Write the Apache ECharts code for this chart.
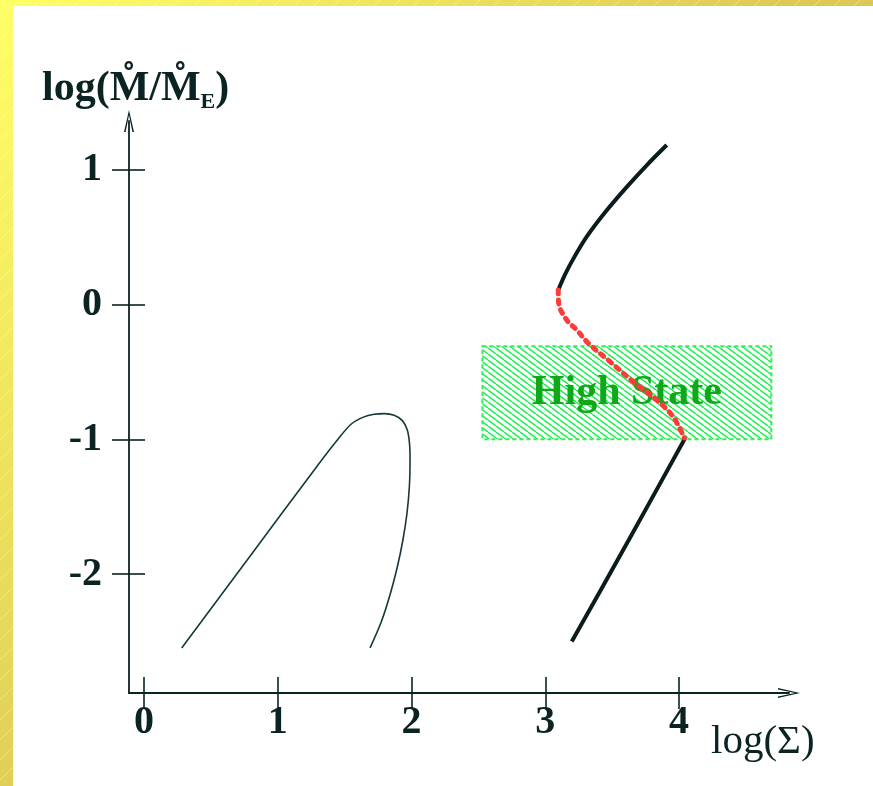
<!DOCTYPE html>
<html>
<head>
<meta charset="utf-8">
<script src="https://cdn.jsdelivr.net/npm/echarts@6/dist/echarts.min.js"></script>
<style>
  html, body { margin: 0; padding: 0; background: #ffffff; }
  #chart { width: 873px; height: 786px; }
</style>
</head>
<body>
<div id="chart"></div>
<script>
// Tick values on both axes
const xTicks = [0, 1, 2, 3, 4];
const yTicks = [-2, -1, 0, 1];

// Cold / low branch of the thermal equilibrium curve
const coldBranch = [
  [0.282, -2.546], [0.780, -1.883], [1.291, -1.203], [1.450, -1.000],
  [1.550, -0.887], [1.640, -0.836], [1.720, -0.815], [1.800, -0.810],
  [1.870, -0.822], [1.930, -0.860], [1.968, -0.930], [1.985, -1.030],
  [1.989, -1.150], [1.984, -1.350], [1.966, -1.550], [1.935, -1.750],
  [1.893, -1.950], [1.840, -2.150], [1.775, -2.350], [1.690, -2.546]
];
// Hot stable branch (upper)
const upperBranch = [
  [3.908, 1.180], [3.758, 1.030], [3.608, 0.868], [3.458, 0.694],
  [3.310, 0.501], [3.220, 0.355], [3.150, 0.226], [3.097, 0.106]
];
// Unstable middle branch
const unstableBranch = [
  [3.097, 0.106], [3.100, 0.010], [3.160, -0.116], [3.235, -0.190],
  [3.320, -0.287], [3.484, -0.425], [3.656, -0.573], [3.833, -0.709],
  [3.955, -0.833], [4.040, -0.990]
];
// Stable branch (lower)
const lowerBranch = [
  [4.045, -0.993], [3.625, -1.745], [3.198, -2.499]
];
// Extent of the "High State" region
const highStateX = [2.53, 4.69];
const highStateY = [-0.31, -1.0];
const highStateText = 'High State';

const FONT = '"Liberation Serif", "DejaVu Serif", serif';
const INK = '#0b2323';

// Hatch pattern for the shaded region
function hatchPattern() {
  const w = 8, h = 6;
  const c = document.createElement('canvas');
  c.width = w; c.height = h;
  const g = c.getContext('2d');
  g.strokeStyle = '#22ee55';
  g.lineWidth = 1.5;
  for (const o of [-1, 0, 1]) {
    g.beginPath();
    g.moveTo(o * w, 0);
    g.lineTo(o * w + w, h);
    g.stroke();
  }
  return c;
}
// Faint stripes on the frame
function stripePattern() {
  const w = 20, h = 20;
  const c = document.createElement('canvas');
  c.width = w; c.height = h;
  const g = c.getContext('2d');
  g.strokeStyle = 'rgba(255,255,255,0.35)';
  g.lineWidth = 1;
  for (const o of [-1, 0, 1]) {
    g.beginPath();
    g.moveTo(o * w, h);
    g.lineTo(o * w + w, 0);
    g.stroke();
  }
  return c;
}

const arrowPath = 'path://M5,0 L10,22 L8.4,22 L5,5 L1.6,22 L0,22 Z';

const XMIN = -0.112, XMAX = 4.822;
const YMIN = -2.88, YMAX = 1.358;

const chart = echarts.init(document.getElementById('chart'), null, { renderer: 'canvas' });

const baseX = {
  type: 'value', min: XMIN, max: XMAX, position: 'bottom',
  splitLine: { show: false }
};
const baseY = {
  type: 'value', min: YMIN, max: YMAX, position: 'left',
  splitLine: { show: false }
};

chart.setOption({
  animation: false,
  backgroundColor: '#ffffff',
  grid: { left: 129, right: 84, top: 121, bottom: 93, containLabel: false },
  graphic: [
    {
      type: 'rect', z: -10, silent: true,
      shape: { x: 0, y: 0, width: 873, height: 786 },
      style: {
        fill: {
          type: 'linear', x: 0, y: 0, x2: 1, y2: 1,
          colorStops: [
            { offset: 0, color: '#ffff66' },
            { offset: 0.5, color: '#dec957' },
            { offset: 1, color: '#d2ba4c' }
          ]
        }
      }
    },
    {
      type: 'rect', z: -9, silent: true,
      shape: { x: 0, y: 0, width: 873, height: 786 },
      style: { fill: { image: stripePattern(), repeat: 'repeat' } }
    },
    {
      type: 'rect', z: -8, silent: true,
      shape: { x: 13, y: 6, width: 860, height: 780 },
      style: { fill: '#ffffff' }
    },
    {
      type: 'text', left: 42, top: 68, z: 10,
      style: {
        text: '{m|log(M\u030A/M\u030A}{s|E}{m|)}',
        rich: {
          m: { fontFamily: FONT, fontWeight: 'bold', fontSize: 42, lineHeight: 48, fill: INK },
          s: { fontFamily: FONT, fontWeight: 'bold', fontSize: 22, lineHeight: 20, fill: INK, verticalAlign: 'bottom' }
        }
      }
    },
    {
      type: 'text', left: 711, top: 722, z: 10,
      style: {
        text: 'log(\u03A3)',
        fontFamily: FONT, fontSize: 41, fill: INK
      }
    }
  ],
  xAxis: [
    Object.assign({}, baseX, {
      axisLine: {
        show: true, onZero: false,
        lineStyle: { color: INK, width: 1.8 },
        symbol: ['none', arrowPath], symbolSize: [12, 22]
      },
      axisTick: { show: true, inside: false, length: 16, customValues: xTicks, lineStyle: { color: INK, width: 1.6 } },
      axisLabel: {
        show: true, customValues: xTicks, margin: 10,
        fontFamily: FONT, fontWeight: 'bold', fontSize: 40, color: INK
      }
    }),
    Object.assign({}, baseX, {
      axisLine: { show: false, onZero: false },
      axisTick: { show: true, inside: true, length: 16, customValues: xTicks, lineStyle: { color: INK, width: 1.6 } },
      axisLabel: { show: false }
    })
  ],
  yAxis: [
    Object.assign({}, baseY, {
      axisLine: {
        show: true, onZero: false,
        lineStyle: { color: INK, width: 1.8 },
        symbol: ['none', arrowPath], symbolSize: [12, 22]
      },
      axisTick: { show: true, inside: false, length: 17, customValues: yTicks, lineStyle: { color: INK, width: 1.6 } },
      axisLabel: {
        show: true, customValues: yTicks, margin: 27,
        fontFamily: FONT, fontWeight: 'bold', fontSize: 40, color: INK
      }
    }),
    Object.assign({}, baseY, {
      axisLine: { show: false, onZero: false },
      axisTick: { show: true, inside: true, length: 16, customValues: yTicks, lineStyle: { color: INK, width: 1.6 } },
      axisLabel: { show: false }
    })
  ],
  series: [
    {
      name: 'highState', type: 'line', data: [], z: 1,
      markArea: {
        silent: true,
        itemStyle: {
          color: { image: hatchPattern(), repeat: 'repeat' },
          borderColor: '#33ee55', borderWidth: 2, borderType: [4, 3]
        },
        label: {
          show: true, position: 'inside', formatter: highStateText,
          fontFamily: FONT, fontWeight: 'bold', fontSize: 42, color: '#10a818'
        },
        data: [[
          { coord: [highStateX[0], highStateY[0]] },
          { coord: [highStateX[1], highStateY[1]] }
        ]]
      }
    },
    {
      name: 'cold', type: 'line', data: coldBranch, smooth: 0.3, showSymbol: false, z: 3,
      lineStyle: { color: '#163838', width: 1.6 }
    },
    {
      name: 'upper', type: 'line', data: upperBranch, smooth: 0.3, showSymbol: false, z: 3,
      lineStyle: { color: '#0a1c1c', width: 4 }
    },
    {
      name: 'lower', type: 'line', data: lowerBranch, smooth: 0.2, showSymbol: false, z: 3,
      lineStyle: { color: '#0a1c1c', width: 4 }
    },
    {
      name: 'unstable', type: 'line', data: unstableBranch, smooth: 0.35, showSymbol: false, z: 4,
      lineStyle: { color: '#ff3a3a', width: 5, type: [4, 6], cap: 'round' }
    }
  ]
});
</script>
</body>
</html>
